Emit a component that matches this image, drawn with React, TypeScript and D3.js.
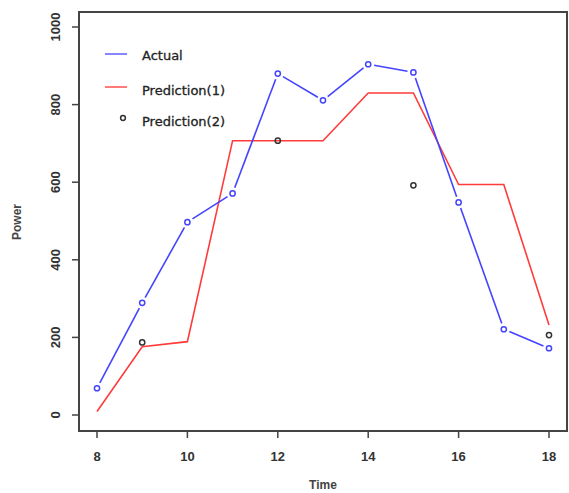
import React from 'react';
import * as d3 from 'd3';

const times = [8, 9, 10, 11, 12, 13, 14, 15, 16, 17, 18];
const actual = [69, 289, 497, 571, 880, 811, 904, 883, 548, 221, 172];
const prediction1 = [9, 176, 189, 707, 707, 707, 830, 830, 594, 594, 232];
const pred2Times = [9, 12, 15, 18];
const prediction2 = [187, 707, 592, 206];
const xTicks = [8, 10, 12, 14, 16, 18];
const yTicks = [0, 200, 400, 600, 800, 1000];

const W = 569;
const H = 493;
const box = { left: 79, top: 12, right: 567, bottom: 431 };

const App = () => {
  const x = d3.scaleLinear().domain([8, 18]).range([97, 549]);
  const y = d3.scaleLinear().domain([0, 1000]).range([415, 27]);

  const redLine = d3
    .line<number>()
    .x((d, i) => x(times[i]))
    .y(d => y(d))(prediction1) || '';

  // R's type="b": segments stop short of each point
  const gap = 6;
  const blueSegs = actual.slice(1).map((v, i) => {
    const x0 = x(times[i]), y0 = y(actual[i]);
    const x1 = x(times[i + 1]), y1 = y(v);
    const len = Math.hypot(x1 - x0, y1 - y0);
    const ux = (x1 - x0) / len, uy = (y1 - y0) / len;
    return { x1: x0 + ux * gap, y1: y0 + uy * gap, x2: x1 - ux * gap, y2: y1 - uy * gap };
  });

  const font = '"Liberation Sans", Arial, sans-serif';
  const legendFont = '"DejaVu Sans", sans-serif';

  return (
    <svg width={W} height={H} style={{ position: 'absolute', left: 0, top: 0, background: '#fff' }}>
      <rect
        x={box.left}
        y={box.top}
        width={box.right - box.left}
        height={box.bottom - box.top}
        fill="none"
        stroke="#444"
        strokeWidth={2}
      />
      {xTicks.map(t => (
        <g key={'x' + t}>
          <line x1={x(t)} x2={x(t)} y1={box.bottom} y2={box.bottom + 7} stroke="#444" strokeWidth={1.5} />
          <text
            x={x(t)}
            y={461}
            textAnchor="middle"
            fontFamily={font}
            fontSize={13}
            fontWeight="bold"
            fill="#333"
          >
            {t}
          </text>
        </g>
      ))}
      {yTicks.map(t => (
        <g key={'y' + t}>
          <line x1={box.left} x2={box.left - 7} y1={y(t)} y2={y(t)} stroke="#444" strokeWidth={1.5} />
          <text
            transform={`translate(60,${y(t)}) rotate(-90)`}
            textAnchor="middle"
            fontFamily={font}
            fontSize={13}
            fontWeight="bold"
            fill="#333"
          >
            {t}
          </text>
        </g>
      ))}
      <text
        transform="translate(21,222) rotate(-90)"
        textAnchor="middle"
        fontFamily={font}
        fontSize={12}
        fontWeight="bold"
        fill="#444"
      >
        Power
      </text>
      <text x={323} y={489} textAnchor="middle" fontFamily={font} fontSize={12} fontWeight="bold" fill="#444">
        Time
      </text>

      <path d={redLine} fill="none" stroke="#ff3b3b" strokeWidth={1.6} />
      {blueSegs.map((s, i) => (
        <line key={'b' + i} {...s} stroke="#4444ff" strokeWidth={1.6} />
      ))}
      {actual.map((v, i) => (
        <circle key={'c' + i} cx={x(times[i])} cy={y(v)} r={2.6} fill="none" stroke="#4444ff" strokeWidth={1.5} />
      ))}
      {prediction2.map((v, i) => (
        <circle key={'k' + i} cx={x(pred2Times[i])} cy={y(v)} r={2.6} fill="none" stroke="#333" strokeWidth={1.5} />
      ))}

      <line x1={105} x2={127} y1={54} y2={54} stroke="#6666ff" strokeWidth={1.6} />
      <text x={142} y={60} fontFamily={legendFont} fontSize={13} fill="#222" stroke="#222" strokeWidth={0.3}>Actual</text>
      <line x1={105} x2={127} y1={87} y2={87} stroke="#ff5a5a" strokeWidth={1.6} />
      <text x={142} y={95} fontFamily={legendFont} fontSize={13} fill="#222" stroke="#222" strokeWidth={0.3}>Prediction(1)</text>
      <circle cx={123} cy={118} r={2.4} fill="none" stroke="#333" strokeWidth={1.5} />
      <text x={142} y={126} fontFamily={legendFont} fontSize={13} fill="#222" stroke="#222" strokeWidth={0.3}>Prediction(2)</text>
    </svg>
  );
};

export default App;
